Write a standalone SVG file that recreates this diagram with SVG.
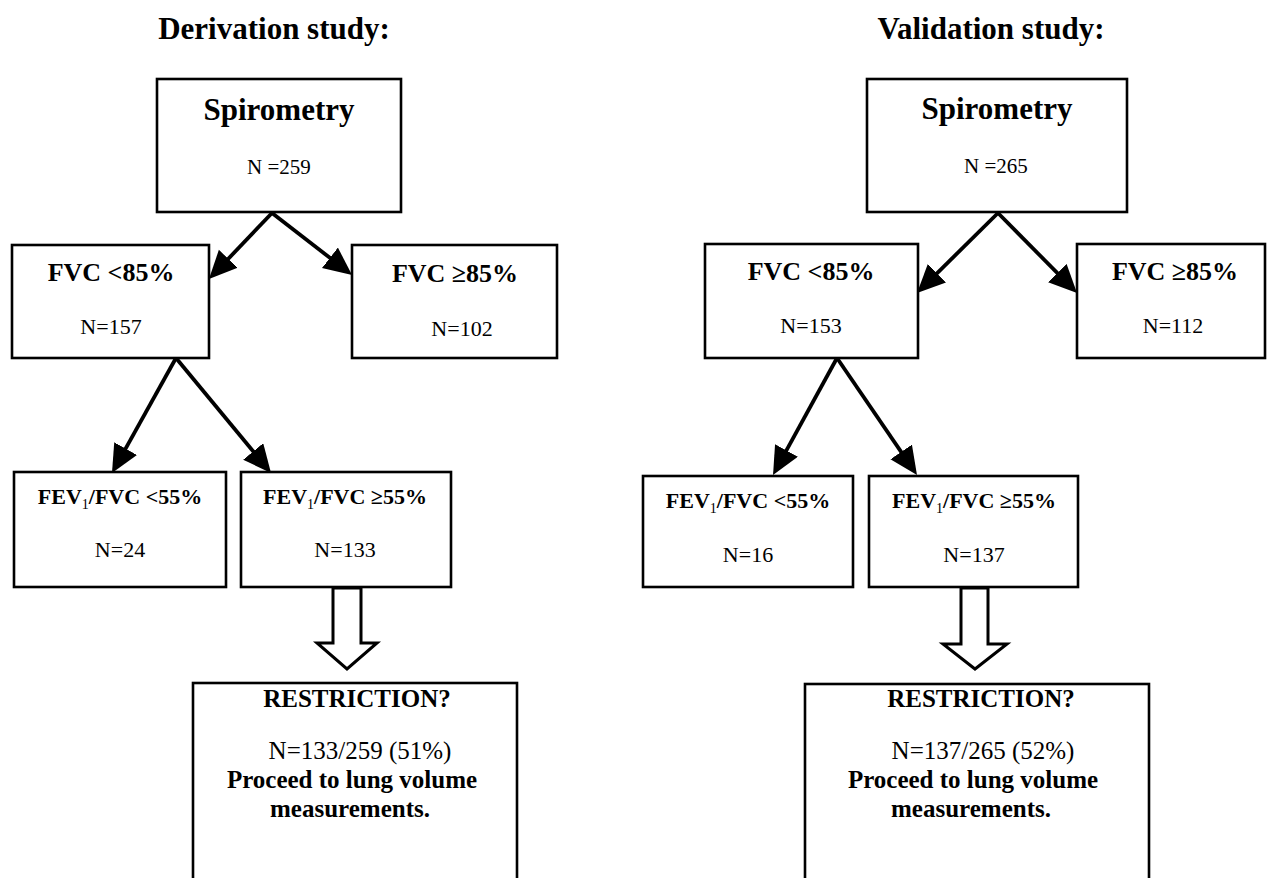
<svg xmlns="http://www.w3.org/2000/svg" width="1267" height="878" viewBox="0 0 1267 878">
<style>
.box{fill:#fff;stroke:#000;stroke-width:2.6}
.conn{stroke:#000;stroke-width:3.8;fill:none;marker-end:url(#ah)}
.block{fill:#fff;stroke:#000;stroke-width:3;stroke-linejoin:miter}
text{font-family:"Liberation Serif","Times New Roman",serif;fill:#000;text-anchor:middle}
.title{font-size:31px;font-weight:bold}
.spiro{font-size:31px;font-weight:bold}
.hd{font-size:26px;font-weight:bold}
.fev{font-size:22px;font-weight:bold}
.n{font-size:22px}
.ns{font-size:21px}
.rb{font-size:25px;font-weight:bold}
.rn{font-size:25px}
.sub{font-size:14px;font-weight:normal}
</style>
<defs>
<marker id="ah" markerUnits="userSpaceOnUse" markerWidth="32" markerHeight="28" refX="22" refY="13" orient="auto">
<path d="M0,0 L28,13 L0,26 z" fill="#000"/>
</marker>
</defs>
<rect width="1267" height="878" fill="#fff"/>
<text class="title" x="274" y="39">Derivation study:</text>
<text class="title" x="991" y="39">Validation study:</text>

<g id="connectors">
<line class="conn" x1="272" y1="213" x2="213.1" y2="274.7"/>
<line class="conn" x1="272" y1="213" x2="347.3" y2="271.3"/>
<line class="conn" x1="176" y1="358" x2="114.9" y2="467.8"/>
<line class="conn" x1="176" y1="358" x2="267.2" y2="468.4"/>
<line class="conn" x1="998" y1="213" x2="921.3" y2="288.8"/>
<line class="conn" x1="998" y1="213" x2="1072.8" y2="288.7"/>
<line class="conn" x1="837" y1="358" x2="775.9" y2="469.7"/>
<line class="conn" x1="837" y1="358" x2="913.6" y2="470.1"/>
<polygon class="block" points="333,588 333,643 317,643 347,669 377,643 361,643 361,588"/>
<polygon class="block" points="961,588 961,644 943,644 975,669 1007,644 988,644 988,588"/>
</g>

<g id="spiro-d">
<rect class="box" x="157" y="79" width="244" height="133"/>
<text class="spiro" x="279" y="120">Spirometry</text>
<text class="ns" x="279" y="174">N =259</text>
</g>
<g id="fvc-lo-d">
<rect class="box" x="12" y="245" width="197" height="113"/>
<text class="hd" x="111" y="281">FVC &lt;85%</text>
<text class="n" x="111" y="334">N=157</text>
</g>
<g id="fvc-hi-d">
<rect class="box" x="352" y="245" width="205" height="113"/>
<text class="hd" x="455" y="282">FVC ≥85%</text>
<text class="n" x="462" y="336">N=102</text>
</g>
<g id="fev-lo-d">
<rect class="box" x="14" y="472" width="212" height="115"/>
<text class="fev" x="120" y="504">FEV<tspan class="sub" dy="5">1</tspan><tspan dy="-5">/FVC &lt;55%</tspan></text>
<text class="n" x="120" y="557">N=24</text>
</g>
<g id="fev-hi-d">
<rect class="box" x="241" y="472" width="210" height="115"/>
<text class="fev" x="345" y="504">FEV<tspan class="sub" dy="5">1</tspan><tspan dy="-5">/FVC ≥55%</tspan></text>
<text class="n" x="345" y="557">N=133</text>
</g>
<g id="restr-d">
<rect class="box" x="193" y="683" width="324" height="230"/>
<text class="rb" x="357" y="707">RESTRICTION?</text>
<text class="rn" x="360" y="759">N=133/259 (51%)</text>
<text class="rb" x="352" y="788">Proceed to lung volume</text>
<text class="rb" x="350" y="817">measurements.</text>
</g>

<g id="spiro-v">
<rect class="box" x="867" y="79" width="260" height="133"/>
<text class="spiro" x="997" y="119">Spirometry</text>
<text class="ns" x="996" y="173">N =265</text>
</g>
<g id="fvc-lo-v">
<rect class="box" x="705" y="244" width="213" height="114"/>
<text class="hd" x="811" y="280">FVC &lt;85%</text>
<text class="n" x="811" y="333">N=153</text>
</g>
<g id="fvc-hi-v">
<rect class="box" x="1077" y="244" width="188" height="114"/>
<text class="hd" x="1175" y="280">FVC ≥85%</text>
<text class="n" x="1173" y="333">N=112</text>
</g>
<g id="fev-lo-v">
<rect class="box" x="643" y="476" width="210" height="111"/>
<text class="fev" x="748" y="508">FEV<tspan class="sub" dy="5">1</tspan><tspan dy="-5">/FVC &lt;55%</tspan></text>
<text class="n" x="748" y="562">N=16</text>
</g>
<g id="fev-hi-v">
<rect class="box" x="869" y="476" width="209" height="111"/>
<text class="fev" x="974" y="508">FEV<tspan class="sub" dy="5">1</tspan><tspan dy="-5">/FVC ≥55%</tspan></text>
<text class="n" x="974" y="562">N=137</text>
</g>
<g id="restr-v">
<rect class="box" x="805" y="684" width="344" height="230"/>
<text class="rb" x="981" y="707">RESTRICTION?</text>
<text class="rn" x="983" y="759">N=137/265 (52%)</text>
<text class="rb" x="973" y="788">Proceed to lung volume</text>
<text class="rb" x="971" y="817">measurements.</text>
</g>
</svg>
